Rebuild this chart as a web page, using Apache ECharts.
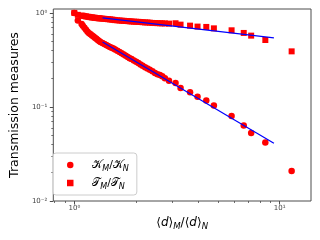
<!DOCTYPE html>
<html><head><meta charset="utf-8">
<script src="https://cdn.jsdelivr.net/npm/echarts@6/dist/echarts.min.js"></script>
<style>html,body{margin:0;padding:0;background:#fff}#c{width:320px;height:240px}</style>
</head><body><div id="c"></div>
<script>
const ratioX = [1.00, 1.04, 1.085, 1.10, 1.12, 1.14, 1.16, 1.18, 1.20, 1.22, 1.24, 1.26, 1.28, 1.30, 1.32, 1.34,
  1.37, 1.40, 1.43, 1.46, 1.49, 1.52, 1.55, 1.58, 1.62, 1.66, 1.70, 1.74, 1.78, 1.82, 1.86, 1.90,
  1.95, 2.00, 2.05, 2.10, 2.15, 2.21, 2.27, 2.33, 2.40, 2.47, 2.54, 2.61, 2.68, 2.76,
  2.89, 3.11, 3.29, 3.66, 3.98, 4.39, 4.78, 5.83, 6.68, 7.26, 8.51, 11.43];
const kRatio = [1.0, 0.828, 0.760, 0.731, 0.695, 0.662, 0.631, 0.608, 0.592, 0.575, 0.560, 0.543, 0.530, 0.516, 0.502, 0.490,
  0.479, 0.467, 0.456, 0.445, 0.435, 0.426, 0.418, 0.408, 0.396, 0.385, 0.372, 0.361, 0.350, 0.340, 0.330, 0.323,
  0.312, 0.302, 0.293, 0.283, 0.275, 0.265, 0.256, 0.248, 0.239, 0.229, 0.223, 0.218, 0.212, 0.202,
  0.190, 0.180, 0.159, 0.143, 0.128, 0.117, 0.1035, 0.0799, 0.0634, 0.0530, 0.0418, 0.0209];
const tRatio = [1.0, 0.953, 0.936, 0.931, 0.925, 0.918, 0.911, 0.906, 0.900, 0.895, 0.891, 0.887, 0.883, 0.879, 0.876, 0.873,
  0.869, 0.865, 0.861, 0.857, 0.853, 0.849, 0.844, 0.838, 0.834, 0.830, 0.826, 0.824, 0.820, 0.818, 0.814, 0.811,
  0.807, 0.805, 0.803, 0.800, 0.796, 0.792, 0.791, 0.787, 0.782, 0.780, 0.778, 0.776, 0.774, 0.773,
  0.769, 0.776, 0.750, 0.732, 0.715, 0.709, 0.685, 0.653, 0.612, 0.573, 0.515, 0.390];
const fitX = [1.372, 9.37];
const fitK = [0.491, 0.0412];
const fitT = [0.885, 0.542];
const xTicks = [1, 10];
const xTickLabels = ['10\u2070', '10\u00b9'];
const yTicks = [0.01, 0.1, 1];
const yTickLabels = ['10\u207b\u00b2', '10\u207b\u00b9', '10\u2070'];
const xMinorTicks = [0.8, 0.9, 2, 3, 4, 5, 6, 7, 8, 9];
const yMinorTicks = [0.02, 0.03, 0.04, 0.05, 0.06, 0.07, 0.08, 0.09, 0.2, 0.3, 0.4, 0.5, 0.6, 0.7, 0.8, 0.9];
const seriesNames = ['K', 'T'];
const legendLabels = ['{c|\ud835\udca6}{s|M}{c|/\ud835\udca6}{s|N}', '{c|\ud835\udcaf}{s|M}{c|/\ud835\udcaf}{s|N}'];
const xName = '\u27e8{i|d}\u27e9{s|M}/\u27e8{i|d}\u27e9{s|N}';
const yName = 'Transmission measures';

const X_MIN = 0.79, X_MAX = 14.2, Y_MIN = 0.01, Y_MAX = 1.1;
const FONT = 'DejaVu Sans';
const AX = '#4d4d4d';

function lab(ticks, labels) {
  return function (v) {
    for (let i = 0; i < ticks.length; i++) {
      if (Math.abs(Math.log10(v) - Math.log10(ticks[i])) < 1e-6) return labels[i];
    }
    return '';
  };
}
function pairs(xs, ys) { return xs.map((x, i) => [x, ys[i]]); }

const chart = echarts.init(document.getElementById('c'), null, {renderer: 'canvas'});
const baseAxis = {type: 'log', logBase: 10, splitLine: {show: false}, axisLine: {show: false}};
chart.setOption({
  animation: false,
  grid: {left: 46, right: 9, top: 9, bottom: 39, show: true, borderColor: AX, borderWidth: 1, backgroundColor: 'transparent'},
  xAxis: [
    Object.assign({}, baseAxis, {
      min: X_MIN, max: X_MAX, position: 'bottom',
      axisTick: {show: true, length: 3.5, customValues: xTicks, lineStyle: {color: AX, width: 1}},
      axisLabel: {customValues: xTicks, formatter: lab(xTicks, xTickLabels), fontFamily: FONT, fontSize: 7, color: '#444', margin: 4},
      name: xName, nameLocation: 'middle', nameGap: 13,
      nameTextStyle: {fontFamily: FONT, fontSize: 12, color: '#000',
        rich: {i: {fontFamily: FONT, fontSize: 12, fontStyle: 'italic', color: '#000'},
               s: {fontFamily: FONT, fontSize: 8.5, fontStyle: 'italic', verticalAlign: 'bottom', lineHeight: 17, color: '#000'}}}
    }),
    Object.assign({}, baseAxis, {
      min: X_MIN, max: X_MAX, position: 'bottom', offset: 0,
      axisTick: {show: true, length: 2, customValues: xMinorTicks, lineStyle: {color: AX, width: 0.8}},
      axisLabel: {show: false}
    })
  ],
  yAxis: [
    Object.assign({}, baseAxis, {
      min: Y_MIN, max: Y_MAX, position: 'left',
      axisTick: {show: true, length: 3.5, customValues: yTicks, lineStyle: {color: AX, width: 1}},
      axisLabel: {customValues: yTicks, formatter: lab(yTicks, yTickLabels), fontFamily: FONT, fontSize: 7, color: '#444', margin: 6},
      name: yName, nameLocation: 'middle', nameGap: 25, nameRotate: 90,
      nameTextStyle: {fontFamily: FONT, fontSize: 12.5, color: '#000'}
    }),
    Object.assign({}, baseAxis, {
      min: Y_MIN, max: Y_MAX, position: 'left', offset: 0,
      axisTick: {show: true, length: 2, customValues: yMinorTicks, lineStyle: {color: AX, width: 0.8}},
      axisLabel: {show: false}
    })
  ],
  legend: {
    left: 53, top: 153, orient: 'vertical',
    padding: [4, 8, 4, 14], itemGap: 2, itemWidth: 34, itemHeight: 6.5, symbolKeepAspect: true,
    backgroundColor: 'rgba(255,255,255,0.8)', borderColor: '#cccccc', borderWidth: 1, borderRadius: 3,
    data: [
      {name: seriesNames[0], icon: 'circle', itemStyle: {opacity: 1}},
      {name: seriesNames[1], icon: 'path://M0 0H10V10H0Z', itemStyle: {opacity: 1}}
    ],
    formatter: function (n) { return legendLabels[seriesNames.indexOf(n)]; },
    textStyle: {fontFamily: FONT, fontSize: 11, color: '#000', lineHeight: 14,
      rich: {c: {fontFamily: FONT, fontSize: 11, color: '#000'},
             s: {fontFamily: FONT, fontSize: 8, fontStyle: 'italic', verticalAlign: 'bottom', lineHeight: 16, color: '#000'}}}
  },
  series: [
    {name: seriesNames[0], type: 'scatter', symbol: 'circle', symbolSize: 6.5, itemStyle: {color: '#ff0000', opacity: 1},
      data: pairs(ratioX, kRatio), xAxisIndex: 0, yAxisIndex: 0},
    {name: seriesNames[1], type: 'scatter', symbol: 'rect', symbolSize: 6, itemStyle: {color: '#ff0000', opacity: 1},
      data: pairs(ratioX, tRatio), xAxisIndex: 0, yAxisIndex: 0},
    {type: 'line', data: pairs(fitX, fitK), showSymbol: false, symbol: 'none', lineStyle: {color: '#0000ff', width: 1.2}, xAxisIndex: 0, yAxisIndex: 0},
    {type: 'line', data: pairs(fitX, fitT), showSymbol: false, symbol: 'none', lineStyle: {color: '#0000ff', width: 1.2}, xAxisIndex: 0, yAxisIndex: 0}
  ]
});
</script></body></html>
